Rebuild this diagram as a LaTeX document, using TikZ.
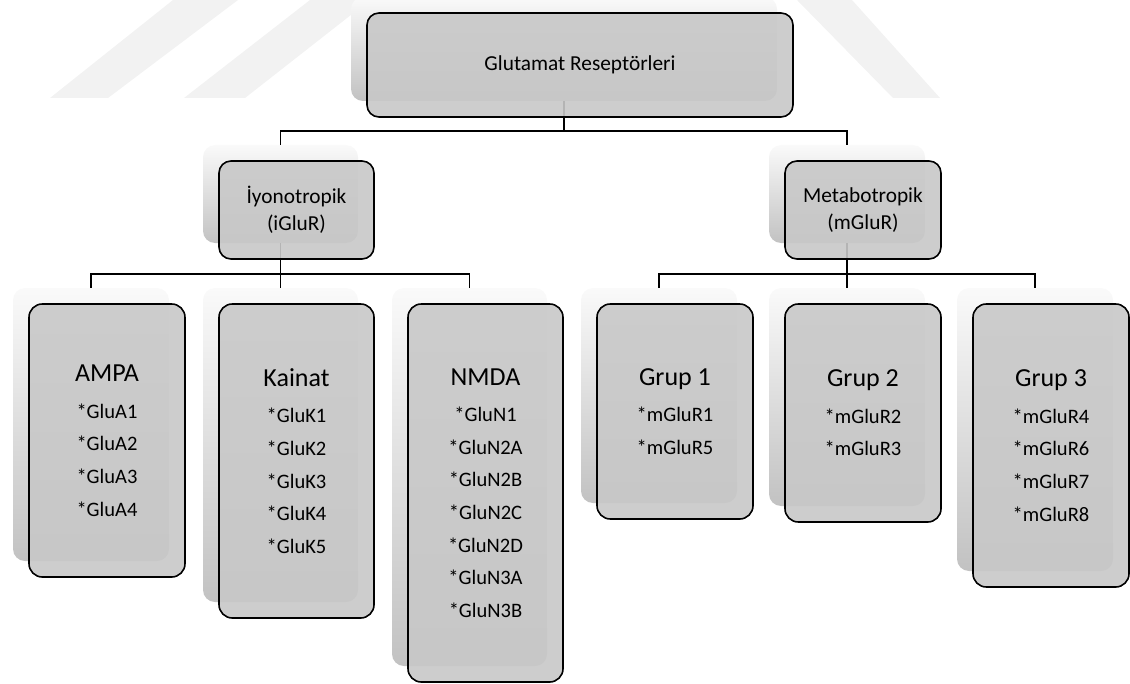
\documentclass[tikz,border=0pt]{standalone}
\usepackage{fontspec}
\setmainfont{Carlito}
\usetikzlibrary{positioning}
\definecolor{boxgray}{RGB}{200,200,200}
\definecolor{markgray}{RGB}{242,242,242}
\newcommand{\titlesize}{\fontsize{19.5}{24.5}\selectfont}
\begin{document}
\begin{tikzpicture}[x=0.75pt, y=-0.75pt,
            backbox/.style 2 args={rounded corners=9pt, top color=gray!4, bottom color=gray!48,
                minimum width=#1*0.75pt, minimum height=#2*0.75pt, inner sep=0pt},
            frontbox/.style 2 args={draw, line width=1.2pt, rounded corners=9pt, fill=boxgray,
                fill opacity=0.9, text opacity=1, minimum width=#1*0.75pt, minimum height=#2*0.75pt,
                inner sep=0pt, align=center, on grid},
            upper/.style={font=\fontsize{16}{20.5}\selectfont},
            leaf/.style={rounded corners=10pt, font=\fontsize{15.4}{24.5}\selectfont},
            connector/.style={line width=1.2pt}]
            \useasboundingbox (0,0) rectangle (1130,684);
            \fill[markgray] (50,98) -- (108,98) -- (238,0) -- (173,0) -- cycle;
            \fill[markgray] (184,98) -- (245,98) -- (370,0) -- (310,0) -- cycle;
            \fill[markgray] (797,0) -- (852,0) -- (940,98) -- (893,98) -- cycle;

            \node[backbox={426}{104}] (glutback) at (564,49) {};
            \node[backbox={155}{98}] (iyonoback) at (280.5,194) {};
            \node[backbox={156}{98}] (metaback) at (847,194) {};
            \node[backbox={156}{273}] (ampaback) at (91,424.5) {};
            \node[backbox={155}{314}] (kainatback) at (280.5,445) {};
            \node[backbox={155}{378}] (nmdaback) at (469.5,477) {};
            \node[backbox={156}{215}] (grup1back) at (659,395.5) {};
            \node[backbox={156}{218}] (grup2back) at (847,397) {};
            \node[backbox={156}{283}] (grup3back) at (1035,429.5) {};

            \draw[connector] (glutback.south) -- ++(0,30) coordinate (topbus)
                (topbus) -| (iyonoback.north) (topbus) -| (metaback.north);
            \draw[connector] (iyonoback.south) -- ++(0,31) coordinate (leftbus)
                (leftbus) -| (ampaback.north) (leftbus) -| (kainatback.north) (leftbus) -| (nmdaback.north);
            \draw[connector] (metaback.south) -- ++(0,31) coordinate (rightbus)
                (rightbus) -| (grup1back.north) (rightbus) -| (grup2back.north) (rightbus) -| (grup3back.north);

            \node[frontbox={426}{104}, upper, below right=12pt and 12pt of glutback] (glut) {Glutamat Reseptörleri};
            \node[frontbox={155}{98}, upper, below right=12pt and 12pt of iyonoback] (iyono) {İyonotropik\\(iGluR)};
            \node[frontbox={156}{98}, upper, below right=12pt and 12pt of metaback] (meta) {Metabotropik\\(mGluR)};

            \node[frontbox={156}{273}, leaf, below right=12pt and 12pt of ampaback] (ampa)
                {{\titlesize AMPA}\\[2.9pt]{*}GluA1\\{*}GluA2\\{*}GluA3\\{*}GluA4};
            \node[frontbox={155}{314}, leaf, below right=12pt and 12pt of kainatback] (kainat)
                {{\titlesize Kainat}\\[2.9pt]{*}GluK1\\{*}GluK2\\{*}GluK3\\{*}GluK4\\{*}GluK5};
            \node[frontbox={155}{378}, leaf, below right=12pt and 12pt of nmdaback] (nmda)
                {{\titlesize NMDA}\\[2.9pt]{*}GluN1\\{*}GluN2A\\{*}GluN2B\\{*}GluN2C\\{*}GluN2D\\{*}GluN3A\\{*}GluN3B};
            \node[frontbox={156}{215}, leaf, below right=12pt and 12pt of grup1back] (grup1)
                {{\titlesize Grup 1}\\[2.9pt]{*}mGluR1\\{*}mGluR5};
            \node[frontbox={156}{218}, leaf, below right=12pt and 12pt of grup2back] (grup2)
                {{\titlesize Grup 2}\\[2.9pt]{*}mGluR2\\{*}mGluR3};
            \node[frontbox={156}{283}, leaf, below right=12pt and 12pt of grup3back] (grup3)
                {{\titlesize Grup 3}\\[2.9pt]{*}mGluR4\\{*}mGluR6\\{*}mGluR7\\{*}mGluR8};
        \end{tikzpicture}
\end{document}
